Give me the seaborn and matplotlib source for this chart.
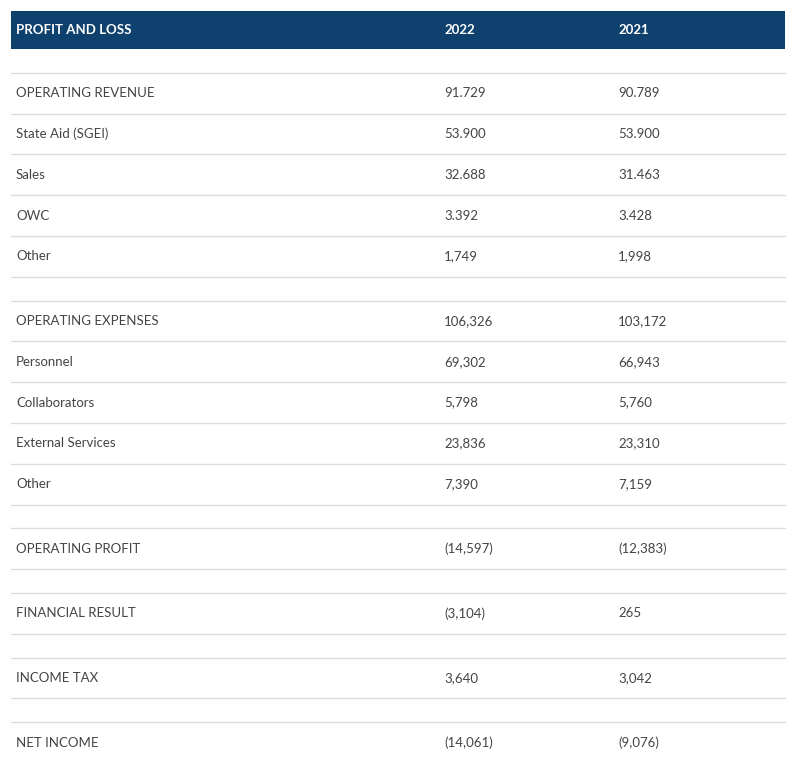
import matplotlib
matplotlib.use("Agg")
import matplotlib.pyplot as plt
import seaborn as sns

header = ["PROFIT AND LOSS", "2022", "2021"]
groups = [
    [("OPERATING REVENUE", "91.729", "90.789"),
     ("State Aid (SGEI)", "53.900", "53.900"),
     ("Sales", "32.688", "31.463"),
     ("OWC", "3.392", "3.428"),
     ("Other", "1,749", "1,998")],
    [("OPERATING EXPENSES", "106,326", "103,172"),
     ("Personnel", "69,302", "66,943"),
     ("Collaborators", "5,798", "5,760"),
     ("External Services", "23,836", "23,310"),
     ("Other", "7,390", "7,159")],
    [("OPERATING PROFIT", "(14,597)", "(12,383)")],
    [("FINANCIAL RESULT", "(3,104)", "265")],
    [("INCOME TAX", "3,640", "3,042")],
    [("NET INCOME", "(14,061)", "(9,076)")],
]

sns.set_theme(style="white")
plt.rcParams['font.family'] = ['Lato', 'DejaVu Sans']

W, H = 796, 771
fig = plt.figure(figsize=(W / 100, H / 100), dpi=100)
ax = fig.add_axes([0, 0, 1, 1])
ax.set_xlim(0, W)
ax.set_ylim(H, 0)
ax.axis("off")

left, right = 11, 785
cols = [16, 444, 618]
header_top, header_bot = 11, 49
row_h, spacer_h = 40.8, 23.8
line_col = "#dcdcdc"
text_col = "#444444"

ax.add_patch(plt.Rectangle((left, header_top), right - left, header_bot - header_top,
                           color="#0f416e", lw=0))
for x, t in zip(cols, header):
    ax.text(x, (header_top + header_bot) / 2, t, color="white", fontsize=9.5,
            fontweight="bold", va="center", ha="left")

y = header_bot
for g in groups:
    y += spacer_h
    ax.plot([left, right], [y, y], color=line_col, lw=1)
    for i, (label, v22, v21) in enumerate(g):
        yc = y + row_h / 2
        for x, t in zip(cols, (label, v22, v21)):
            ax.text(x, yc, t, color=text_col, fontsize=9.5, va="center", ha="left")
        y += row_h
        if not (g is groups[-1] and i == len(g) - 1):
            ax.plot([left, right], [y, y], color=line_col, lw=1)

fig.savefig("out.png", dpi=100)
